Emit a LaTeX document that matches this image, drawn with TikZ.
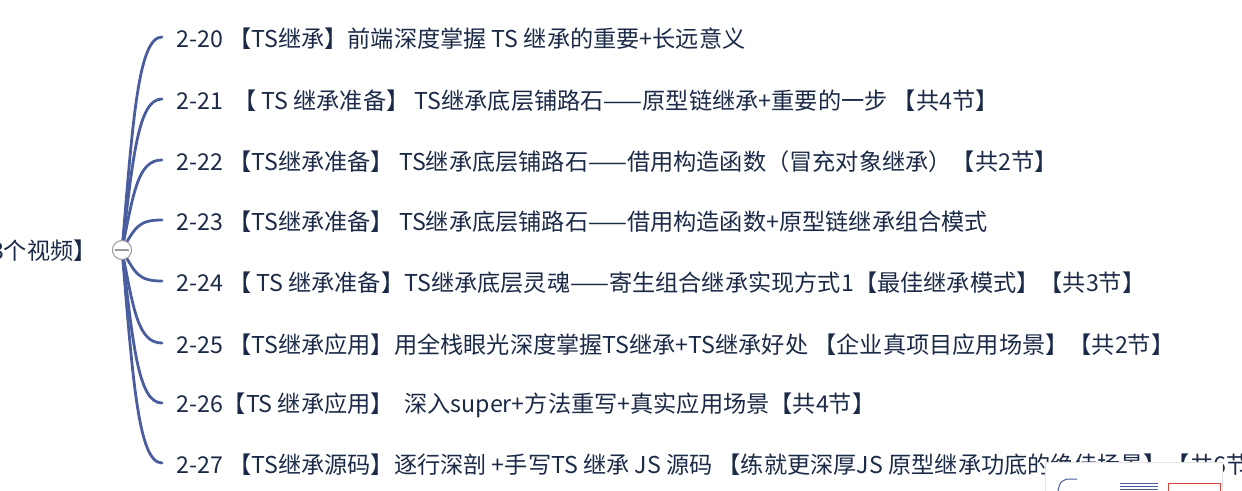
\documentclass[tikz,border=0pt]{standalone}
\usepackage{fontspec}
\setmainfont{Noto Sans CJK SC}
\usetikzlibrary{calc}
\definecolor{ink}{HTML}{1B2A47}
\definecolor{branchblue}{HTML}{4A5D9F}
\definecolor{hubgrey}{HTML}{9A9A9A}
\definecolor{mapred}{HTML}{D9443A}

\begin{document}
\begin{tikzpicture}[x=1pt, y=1pt,
    topic/.style={anchor=west, inner sep=0pt, text=ink, font=\fontsize{23.2}{27}\selectfont},
    branch/.style={draw=branchblue, line width=2.8pt, line cap=round}]
      \useasboundingbox (0,0) rectangle (1242,-490);
      \clip (0,0) rectangle (1242,-490);
      % root text, cut at the left edge
      \node[topic, anchor=east] (root) at (97,-251) {3个视频】};
      \coordinate (hubc) at (122,-250);
      \foreach[count=\i] \yp/\txt in {%
        37/{2-20 【TS继承】前端深度掌握 TS 继承的重要+长远意义},
        99/{2-21 \ 【 TS 继承准备】 TS继承底层铺路石——原型链继承+重要的一步 【共4节】},
        160/{2-22 【TS继承准备】 TS继承底层铺路石——借用构造函数（冒充对象继承）【共2节】},
        220/{2-23 【TS继承准备】 TS继承底层铺路石——借用构造函数+原型链继承组合模式},
        281/{2-24 【 TS 继承准备】TS继承底层灵魂——寄生组合继承实现方式1【最佳继承模式】【共3节】},
        343/{2-25 【TS继承应用】用全栈眼光深度掌握TS继承+TS继承好处 【企业真项目应用场景】【共2节】},
        403/{2-26【TS 继承应用】 \ 深入super+方法重写+真实应用场景【共4节】},
        463/{2-27 【TS继承源码】逐行深剖 +手写TS 继承 JS 源码 【练就更深厚JS 原型继承功底的绝佳场景】【共6节】}
        } {
        \pgfmathsetmacro\dy{250 - \yp}
        \pgfmathsetmacro\ang{atan2(\dy, 18)}
        \pgfmathsetmacro\od{0.55*abs(\dy) + 10}
        \node[topic] (t\i) at (176,-\yp-2) {\txt};
        \coordinate (e\i) at (162,-\yp);
        \draw[branch] (hubc) to[out=\ang, in=180, out distance=\od pt, in distance=24pt] (e\i);
      }
      % collapse button
      \node[circle, draw=hubgrey, line width=1pt, fill=white, minimum size=19pt, inner sep=0pt] (hub) at (hubc) {};
      \draw[hubgrey, line width=1.2pt] ([xshift=-7pt]hub.center) -- ([xshift=7pt]hub.center);
      % minimap overlay in the corner
      \fill[black!10] (1045,-462) rectangle (1223,-495);
      \fill[white] (1046,-463) rectangle (1222,-495);
      \draw[branchblue, line width=1pt] (1058,-491) .. controls (1060,-482) .. (1067,-479) -- (1077,-479);
      \foreach \ly in {483,486,489}
        \draw[branchblue, line width=0.9pt] (1120,-\ly) -- (1158,-\ly);
      \draw[mapred, line width=1pt] (1168,-483.5) rectangle (1220,-495);
    \end{tikzpicture}
\end{document}
